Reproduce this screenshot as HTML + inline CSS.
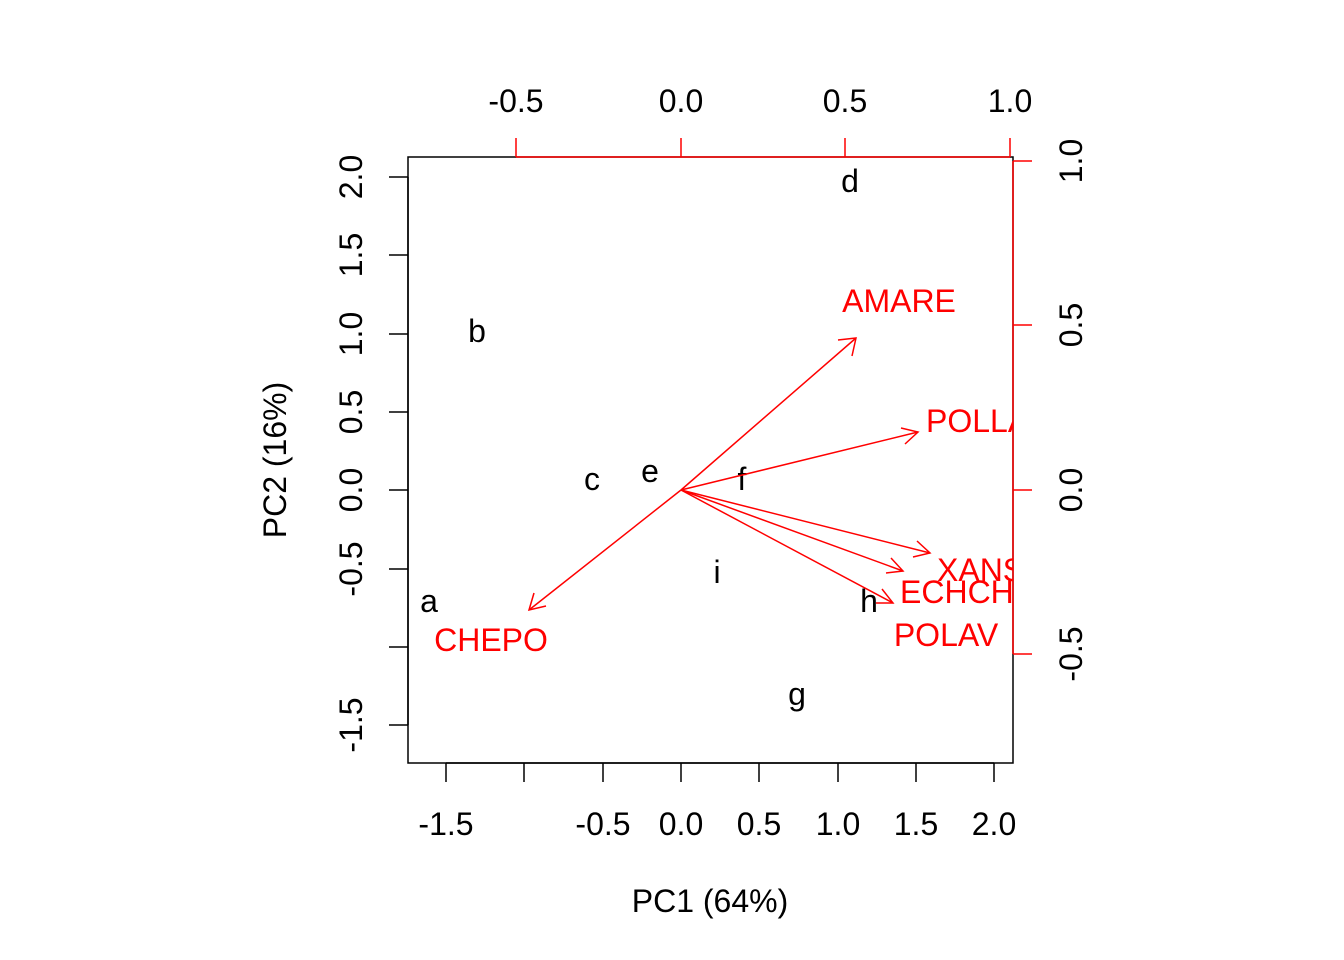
<!DOCTYPE html>
<html><head><meta charset="utf-8"><style>body{margin:0;background:#fff}svg{display:block}</style></head><body>
<svg width="1344" height="960" xmlns="http://www.w3.org/2000/svg" font-family="Liberation Sans, Arial, sans-serif" font-size="32">
<defs><clipPath id="c"><rect x="408" y="157" width="605" height="606"/></clipPath></defs>
<rect width="1344" height="960" fill="#fff"/>
<rect x="408" y="157" width="605" height="606" fill="none" stroke="#000" stroke-width="1.5"/>
<g stroke="#000" stroke-width="1.5">
<line x1="446" y1="763" x2="994" y2="763"/>
<line x1="446" y1="763" x2="446" y2="782"/><line x1="524" y1="763" x2="524" y2="782"/><line x1="603" y1="763" x2="603" y2="782"/><line x1="681" y1="763" x2="681" y2="782"/><line x1="759" y1="763" x2="759" y2="782"/><line x1="838" y1="763" x2="838" y2="782"/><line x1="916" y1="763" x2="916" y2="782"/><line x1="994" y1="763" x2="994" y2="782"/>
<line x1="408" y1="177" x2="408" y2="725"/>
<line x1="389" y1="177" x2="408" y2="177"/><line x1="389" y1="255" x2="408" y2="255"/><line x1="389" y1="334" x2="408" y2="334"/><line x1="389" y1="412" x2="408" y2="412"/><line x1="389" y1="490" x2="408" y2="490"/><line x1="389" y1="569" x2="408" y2="569"/><line x1="389" y1="647" x2="408" y2="647"/><line x1="389" y1="725" x2="408" y2="725"/>
</g>
<g text-anchor="middle" fill="#000">
<text x="446" y="835">-1.5</text><text x="603" y="835">-0.5</text><text x="681" y="835">0.0</text><text x="759" y="835">0.5</text><text x="838" y="835">1.0</text><text x="916" y="835">1.5</text><text x="994" y="835">2.0</text>
<text x="710" y="912">PC1 (64%)</text>
<text transform="translate(362,177) rotate(-90)">2.0</text><text transform="translate(362,255) rotate(-90)">1.5</text><text transform="translate(362,334) rotate(-90)">1.0</text><text transform="translate(362,412) rotate(-90)">0.5</text><text transform="translate(362,490) rotate(-90)">0.0</text><text transform="translate(362,569) rotate(-90)">-0.5</text><text transform="translate(362,725) rotate(-90)">-1.5</text>
<text transform="translate(286,460) rotate(-90)">PC2 (16%)</text>
<text x="850" y="192">d</text><text x="477" y="342">b</text><text x="592" y="490">c</text><text x="650" y="482">e</text><text x="742" y="490">f</text><text x="717" y="583">i</text><text x="429" y="612">a</text><text x="869" y="612">h</text><text x="797" y="705">g</text>
</g>
<g stroke="#f00" stroke-width="1.5">
<line x1="516" y1="157" x2="1010" y2="157"/>
<line x1="516" y1="157" x2="516" y2="138"/><line x1="681" y1="157" x2="681" y2="138"/><line x1="845" y1="157" x2="845" y2="138"/><line x1="1010" y1="157" x2="1010" y2="138"/>
<line x1="1013" y1="161" x2="1013" y2="654"/>
<line x1="1013" y1="161" x2="1032" y2="161"/><line x1="1013" y1="325" x2="1032" y2="325"/><line x1="1013" y1="490" x2="1032" y2="490"/><line x1="1013" y1="654" x2="1032" y2="654"/>
</g>
<g text-anchor="middle" fill="#000">
<text x="516" y="112">-0.5</text><text x="681" y="112">0.0</text><text x="845" y="112">0.5</text><text x="1010" y="112">1.0</text>
<text transform="translate(1082,161) rotate(-90)">1.0</text><text transform="translate(1082,325) rotate(-90)">0.5</text><text transform="translate(1082,490) rotate(-90)">0.0</text><text transform="translate(1082,654) rotate(-90)">-0.5</text>
</g>
<g clip-path="url(#c)" stroke="#f00" stroke-width="1.5" fill="none">
<line x1="681" y1="490" x2="856" y2="338"/><polyline points="838,340 856,338 852,356"/>
<line x1="681" y1="490" x2="918" y2="432"/><polyline points="901,428 918,432 905,444"/>
<line x1="681" y1="490" x2="930" y2="553"/><polyline points="917,541 930,553 913,557"/>
<line x1="681" y1="490" x2="903" y2="571"/><polyline points="891,558 903,571 886,573"/>
<line x1="681" y1="490" x2="893" y2="603"/><polyline points="882,589 893,603 876,603"/>
<line x1="681" y1="490" x2="529" y2="610"/><polyline points="534,593 529,610 546,606"/>
</g>
<g clip-path="url(#c)" fill="#f00">
<text x="899" y="312" text-anchor="middle">AMARE</text>
<text x="926" y="432">POLLA</text>
<text x="937" y="581">XANS</text>
<text x="900" y="603">ECHCH</text>
<text x="946" y="646" text-anchor="middle">POLAV</text>
<text x="491" y="651" text-anchor="middle">CHEPO</text>
</g>
</svg>
</body></html>
